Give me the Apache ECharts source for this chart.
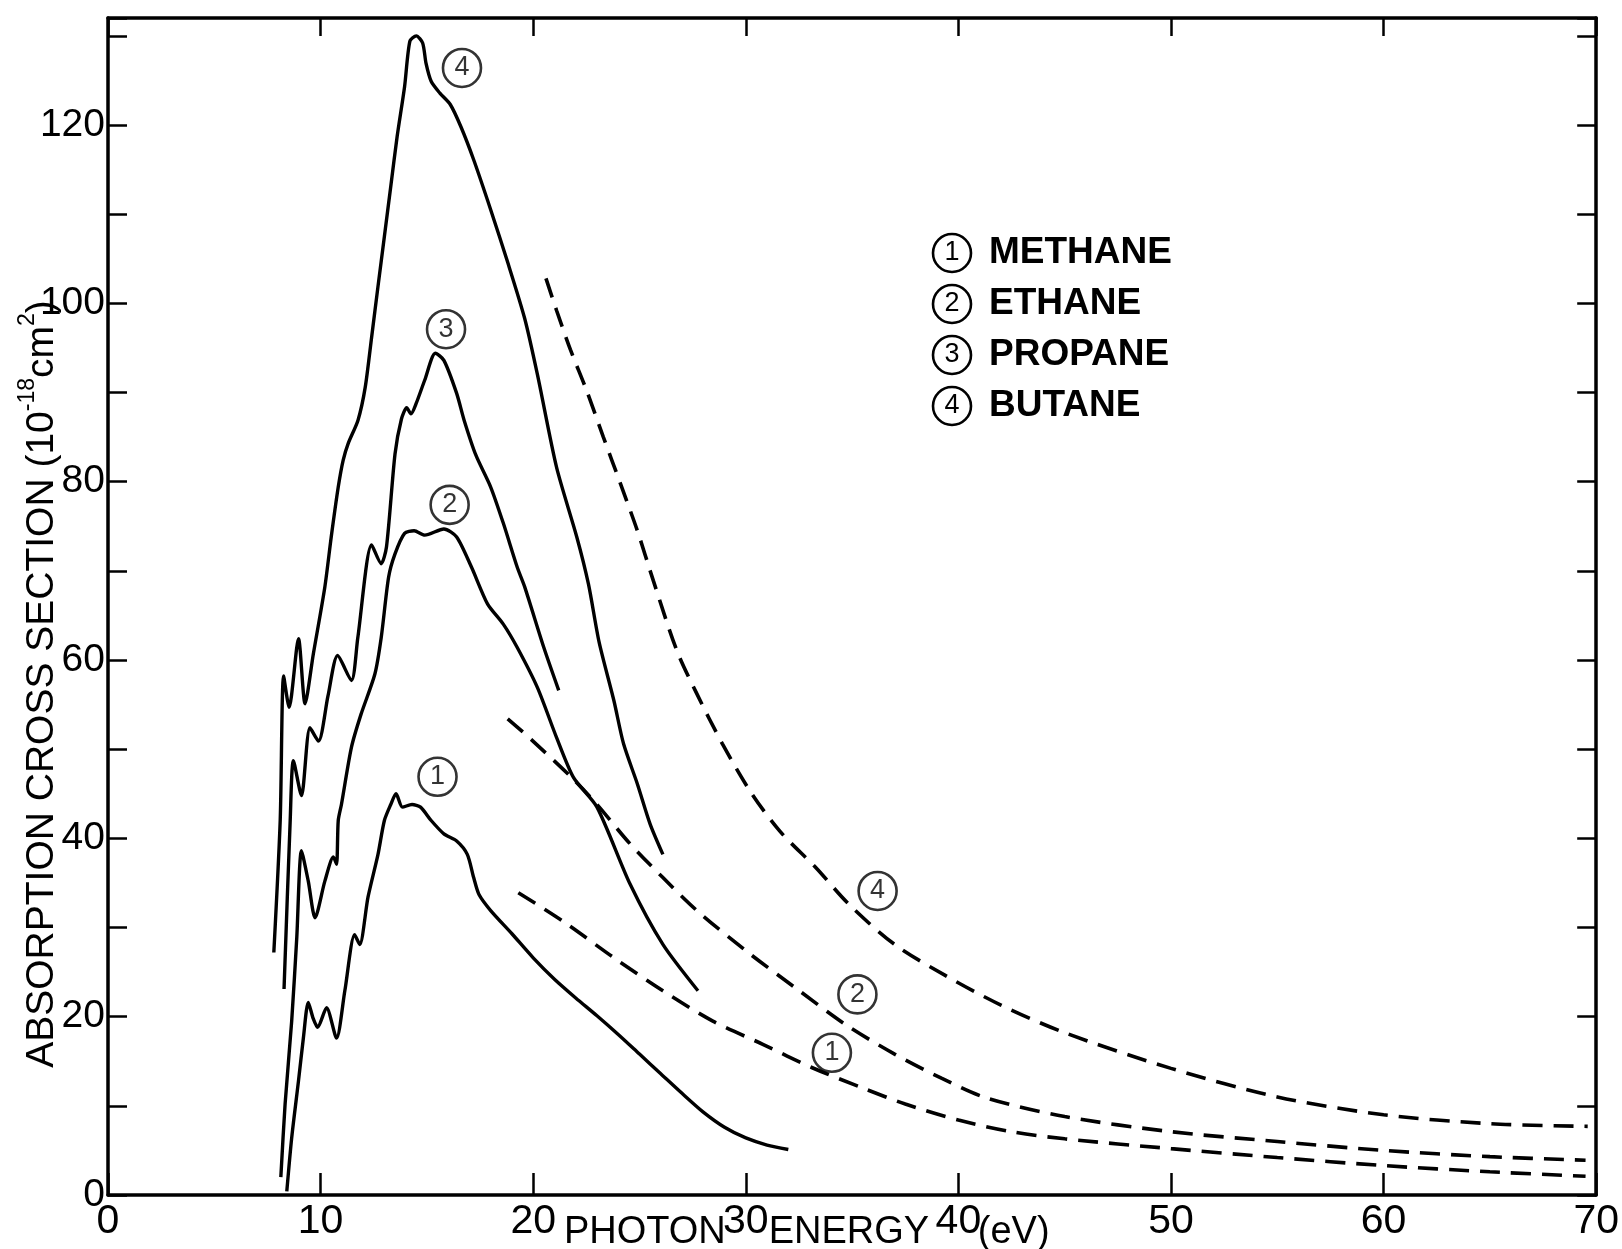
<!DOCTYPE html>
<html><head><meta charset="utf-8">
<script src="https://cdn.jsdelivr.net/npm/echarts@6/dist/echarts.min.js"></script>
<style>html,body{margin:0;padding:0;background:#fff}#c{width:1622px;height:1249px}</style>
</head><body><div id="c"></div>
<script>
// ---------- DATA ----------
const xTicks = [0, 10, 20, 30, 40, 50, 60, 70];
const yTickLabels = [0, 20, 40, 60, 80, 100, 120];

const methaneSolid = [[8.41,0.4],[8.64,6.4],[8.96,12.8],[9.19,17.6],[9.42,21.6],[9.65,19.8],[9.86,18.8],[10.28,21.0],[10.75,17.6],[11.14,22.9],[11.6,29.2],[11.84,28.1],[12.23,33.4],[12.7,38.2],[13.0,42.0],[13.3,43.8],[13.55,45.0],[13.85,43.5],[14.3,43.8],[14.7,43.5],[15.2,42.0],[15.8,40.5],[16.4,39.7],[16.9,38.2],[17.2,35.6],[17.45,33.7],[18.0,31.9],[19.0,29.3],[20.0,26.6],[21.0,24.2],[22.0,22.1],[23.0,20.1],[24.0,18.0],[25.0,15.8],[26.0,13.6],[27.0,11.4],[28.0,9.3],[29.0,7.6],[30.0,6.4],[31.0,5.6],[32.0,5.1]];
const ethaneSolid = [[8.13,2.0],[8.33,10.2],[8.64,19.5],[8.88,28.9],[9.1,38.6],[9.42,35.2],[9.74,31.1],[10.2,35.2],[10.6,37.9],[10.75,37.1],[10.83,42.0],[10.98,43.8],[11.45,50.2],[11.9,53.9],[12.55,58.4],[12.85,62.5],[13.2,69.3],[13.5,71.9],[13.95,74.2],[14.4,74.5],[14.9,74.0],[15.8,74.7],[16.4,73.8],[17.1,70.4],[17.85,66.3],[18.6,64.0],[19.25,61.4],[20.2,56.9],[21.1,51.3],[21.9,46.8],[23.0,43.5],[24.55,34.9],[26.1,28.1],[27.75,22.9]];
const propaneSolid = [[8.28,23.1],[8.57,42.0],[8.72,48.7],[9.1,44.8],[9.5,52.4],[9.9,50.9],[10.35,56.0],[10.8,60.5],[11.45,57.7],[11.75,62.5],[12.4,72.9],[12.85,70.8],[13.1,72.7],[13.5,83.1],[13.8,87.0],[14.05,88.3],[14.25,87.6],[14.5,88.8],[14.9,91.4],[15.4,94.4],[15.8,93.6],[16.4,89.9],[16.75,86.9],[17.3,83.0],[18.0,79.4],[18.6,75.3],[19.25,70.4],[19.6,68.2],[20.5,61.4],[21.2,56.6]];
const butaneSolid = [[7.8,27.2],[8.1,42.0],[8.26,58.2],[8.52,54.7],[8.96,62.4],[9.27,55.1],[9.66,60.7],[10.2,68.2],[10.5,73.8],[10.83,79.4],[11.06,82.4],[11.3,84.3],[11.76,86.9],[12.1,90.6],[12.4,96.2],[12.7,101.9],[13.0,107.5],[13.3,113.1],[13.6,118.7],[13.95,124.3],[14.2,129.4],[14.5,130.0],[14.8,129.2],[14.96,126.9],[15.2,124.9],[15.6,123.6],[16.1,122.3],[16.6,119.8],[17.2,116.1],[18.0,110.5],[18.8,104.6],[19.6,98.3],[20.2,92.0],[21.1,81.6],[22.05,73.8],[22.6,68.5],[23.1,62.0],[23.8,55.4],[24.25,50.6],[24.9,46.1],[25.5,41.6],[26.1,38.2]];

const methaneDashed = [[19.3,33.9],[21.4,30.7],[23.8,26.6],[26.1,22.9],[28.45,19.5],[30.8,16.9],[33.1,14.3],[35.5,12.0],[37.5,10.2],[40,8.4],[42.5,7.1],[45,6.3],[50,5.2],[55,4.2],[60,3.3],[65,2.6],[69.5,2.1]];
const ethaneDashed = [[18.8,53.4],[19.9,51.1],[21.9,46.6],[23.0,43.8],[24.55,39.4],[26.1,35.6],[27.7,31.9],[30.0,27.4],[32.35,23.2],[34.7,19.1],[37.0,15.8],[39.2,13.1],[41.3,10.9],[45,8.8],[50,7.1],[55,6.0],[60,5.0],[65,4.3],[69.5,3.9]];
const butaneDashed = [[20.6,102.8],[21.1,99.2],[21.75,94.8],[22.5,90.3],[23.3,85.0],[24.1,79.8],[24.9,74.5],[25.65,68.9],[26.75,61.1],[27.7,56.2],[28.9,50.6],[30.2,45.3],[31.6,40.8],[33.3,36.7],[34.85,32.6],[37.0,28.1],[39.4,24.6],[42,21.3],[45,18.2],[50,14.2],[55,11.0],[60,9.0],[65,8.0],[69.6,7.7]];

// circled curve labels: [x, y, number]
const curveLabels = [[16.65,126.4,'4'],[15.9,97.1,'3'],[16.07,77.4,'2'],[15.5,46.9,'1'],[36.2,34.1,'4'],[35.25,22.5,'2'],[34.05,15.95,'1']];
const legendNames = ['METHANE','ETHANE','PROPANE','BUTANE'];

// ---------- STYLE ----------
const FONT_N = "'Liberation Sans Narrow','Liberation Sans',sans-serif";
const FONT_R = "'Liberation Sans','DejaVu Sans',sans-serif";
const INK = '#000';
const isIn = (arr, v) => arr.some(t => Math.abs(t - v) < 1e-6);

function solid(data){ return {type:'line', data, showSymbol:false, smooth:0.25, lineStyle:{color:INK, width:3.4}, z:3, silent:true}; }
function dashed(data){ return {type:'line', data, showSymbol:false, smooth:0.3, lineStyle:{color:INK, width:3.6, type:[20,11]}, z:3, silent:true}; }

const chart = echarts.init(document.getElementById('c'), null, {renderer:'canvas'});
const axisLine = {show:true, onZero:false, lineStyle:{color:INK, width:3.5}};
chart.setOption({
  animation:false,
  backgroundColor:'#fff',
  grid:{left:108, right:17, top:18, bottom:54},
  xAxis:[
    {type:'value', min:0, max:70, interval:10, position:'bottom', axisLine,
     axisTick:{show:true, inside:true, length:22, lineStyle:{color:INK, width:2.5}},
     axisLabel:{show:true, margin:6, fontSize:41, fontFamily:FONT_N, color:INK,
       formatter:v=> isIn(xTicks, v) ? String(Math.round(v)) : ''},
     splitLine:{show:false}},
    {type:'value', min:0, max:70, interval:10, position:'top', axisLine,
     axisTick:{show:true, inside:true, length:18, lineStyle:{color:INK, width:2.5}},
     axisLabel:{show:false}, splitLine:{show:false}}
  ],
  yAxis:[
    {type:'value', min:0, max:132, interval:10, position:'left', axisLine,
     axisTick:{show:true, inside:true, length:19, lineStyle:{color:INK, width:2.5}},
     axisLabel:{show:true, margin:3, fontSize:39, fontFamily:FONT_N, color:INK,
       formatter:v=> isIn(yTickLabels, v) ? String(Math.round(v)) : ''},
     splitLine:{show:false}},
    {type:'value', min:0, max:132, interval:10, position:'right', axisLine,
     axisTick:{show:true, inside:true, length:19, lineStyle:{color:INK, width:2.5}},
     axisLabel:{show:false}, splitLine:{show:false}}
  ],
  series:[
    solid(methaneSolid), solid(ethaneSolid), solid(propaneSolid), solid(butaneSolid),
    dashed(methaneDashed), dashed(ethaneDashed), dashed(butaneDashed),
    {type:'scatter', data:curveLabels, symbol:'circle', symbolSize:38, z:5, silent:true,
     itemStyle:{color:'#fff', borderColor:INK, borderWidth:2.6},
     label:{show:true, position:'inside', formatter:p=>p.value[2], fontSize:27, fontFamily:FONT_N, color:INK}}
  ]
});

// ---------- annotations ----------
const g = [];
legendNames.forEach((name,i)=>{
  const cy = 253 + 51*i;
  g.push({type:'circle', shape:{cx:952, cy, r:19}, style:{fill:'#fff', stroke:INK, lineWidth:2.6}, z:10});
  g.push({type:'text', x:952, y:cy, style:{text:String(i+1), fontSize:27, fontFamily:FONT_N, fill:INK, align:'center', verticalAlign:'middle', textAlign:'center', textVerticalAlign:'middle'}, z:11});
  g.push({type:'text', x:989, y:cy, style:{text:name, fontSize:37, fontWeight:'bold', fontFamily:FONT_R, fill:INK, align:'left', verticalAlign:'middle', textAlign:'left', textVerticalAlign:'middle'}, z:11});
});
// x-axis title pieces, interleaved with tick labels
[['PHOTON',25.25],['ENERGY',34.85],['(eV)',42.6]].forEach(([t,xv])=>{
  const px = chart.convertToPixel({xAxisIndex:0}, xv);
  g.push({type:'text', x:px, y:1233, style:{text:t, fontSize:38, fontFamily:FONT_R, fill:INK, align:'center', verticalAlign:'middle', textAlign:'center', textVerticalAlign:'middle'}, z:11});
});
// y-axis title
g.push({type:'text', x:39, y:684, rotation:Math.PI/2,
  style:{text:'{a|ABSORPTION CROSS SECTION (10}{s|-18}{a|cm}{s|2}{a|)}',
    rich:{a:{fontSize:39, fontFamily:FONT_R, fill:INK, color:INK, lineHeight:46, verticalAlign:'bottom'},
          s:{fontSize:23, fontFamily:FONT_R, fill:INK, color:INK, lineHeight:24, verticalAlign:'top'}},
    fill:INK, align:'center', verticalAlign:'middle', textAlign:'center', textVerticalAlign:'middle'}, z:11});
chart.setOption({graphic:g});
</script></body></html>
